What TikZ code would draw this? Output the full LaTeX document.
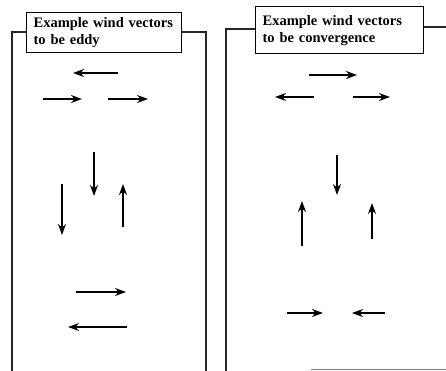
\documentclass[tikz,border=0pt]{standalone}
\usepackage{fontspec}
\setmainfont{Liberation Serif}
\usetikzlibrary{arrows.meta}
\hyphenpenalty=10000
\begin{document}
\begin{tikzpicture}[x=1pt,y=-1pt,
  frame/.style={line width=1.4pt,black!85},
  titlebox/.style={draw,line width=1.2pt,fill=white,anchor=north west,inner xsep=7pt,inner ysep=0pt,align=left,text width=#1,font=\fontsize{14.5}{17}\selectfont\bfseries},
  vec/.style={line width=1.3pt,-{Stealth[length=11pt,width=8pt]}}]
\useasboundingbox (0,0) rectangle (446,371);
% left panel frame
\draw[frame] (26,32) -- (12,32) -- (12,371);
\draw[frame] (181,32) -- (206,32) -- (206,371);
% right panel frame
\draw[frame] (255,29) -- (226,29) -- (226,371);
\draw[frame] (423,27) -- (446,27);
\draw[line width=0.6pt,black!50] (311,369) -- (446,369);
% titles
\node[titlebox=141pt,minimum height=40pt] (t1) at (26,12) {Example wind vectors\\to be eddy};
\node[titlebox=154pt,minimum height=47pt] (t2) at (255,6) {Example wind vectors\\to be convergence};
% left vectors
\draw[vec] (118,73) -- (73,73);
\draw[vec] (43,99) -- (82,99);
\draw[vec] (108,99) -- (148,99);
\draw[vec] (94,152) -- (94,196);
\draw[vec] (62,184) -- (62,235);
\draw[vec] (123,227) -- (123,184);
\draw[vec] (76,292) -- (126,292);
\draw[vec] (127,327) -- (68,327);
% right vectors
\draw[vec] (309,75) -- (357,75);
\draw[vec] (314,97) -- (275,97);
\draw[vec] (353,97) -- (390,97);
\draw[vec] (337,155) -- (337,195);
\draw[vec] (302,246) -- (302,201);
\draw[vec] (372,239) -- (372,203);
\draw[vec] (287,313) -- (323,313);
\draw[vec] (385,313) -- (352,313);
\end{tikzpicture}
\end{document}
